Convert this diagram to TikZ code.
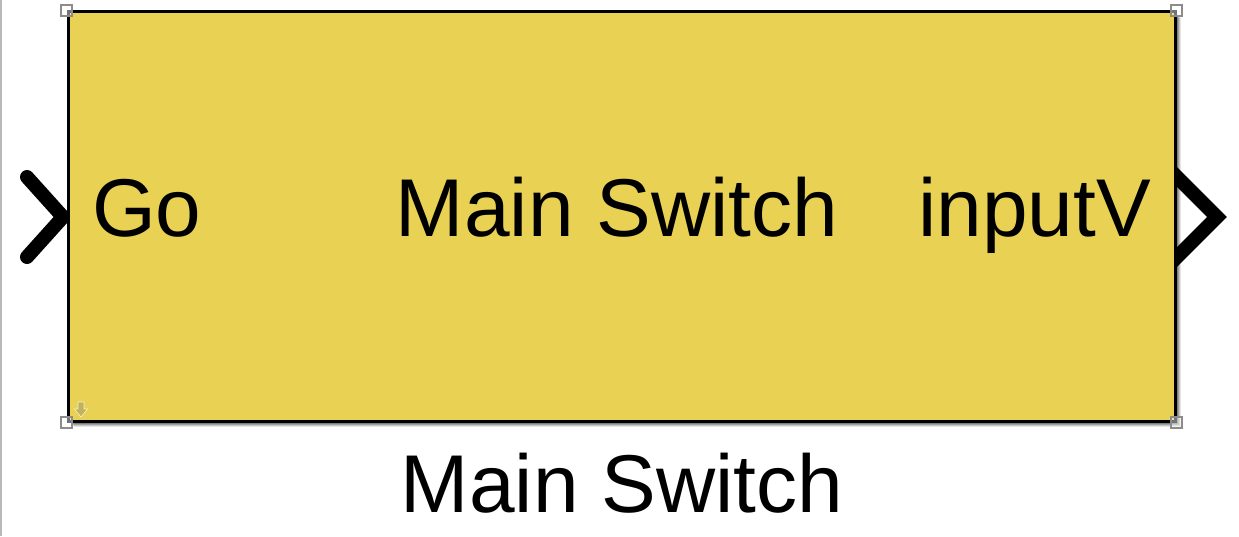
\documentclass[tikz,border=0pt]{standalone}
\usepackage{fontspec}
\setmainfont{Liberation Sans}
\definecolor{blockfill}{RGB}{232,209,83}
\definecolor{handlegray}{RGB}{140,140,140}
\definecolor{markolive}{RGB}{180,170,90}

\begin{document}
\begin{tikzpicture}[x=1pt,y=1pt,
    port/.style={line width=14pt,miter limit=10},
    handle/.style={draw=handlegray,line width=1.2pt,fill=white,fill opacity=0.45},
    blocktext/.style={inner sep=0pt,font=\fontsize{82}{98}\selectfont}]
    \useasboundingbox (0,0) rectangle (1239,536);
    \draw[gray!55,line width=1.5pt] (0.75,0) -- (0.75,536);
    % in and out ports
    \draw[port,line cap=round] (27,359) -- (63,319) -- (27,279);
    \draw[port] (1160,376) -- (1217,319) -- (1160,262);
    % soft shadow
    \foreach \s/\o in {6/0.1,5/0.14,4/0.18,3/0.22,2/0.28}
    \fill[black,opacity=\o] (68+\s,524-\s) rectangle (1175+\s,115-\s);
    \node[draw=black,line width=3pt,fill=blockfill,inner sep=0pt,
          minimum width=1107pt,minimum height=409pt] (block) at (621.5,319.5) {};
    \node[blocktext,anchor=base west] (go) at (92,299) {Go};
    \node[blocktext,anchor=base] (inner) at (617,299) {Main Switch};
    \node[blocktext,anchor=base east] (out) at (1151,299) {inputV};
    \node[blocktext,anchor=base] (name) at (622,24) {Main Switch};
    % little arrow mark in the corner
    \fill[markolive,opacity=0.75,draw=white,line width=0.6pt]
        (78,134) -- (84,134) -- (84,127) -- (87.5,127) -- (81,119) -- (74.5,127) -- (78,127) -- cycle;
    % selection handles
    \foreach \c in {north west,north east,south west,south east}
    \draw[handle] ([shift={(-5.5,-5.5)}]block.\c) rectangle ([shift={(5.5,5.5)}]block.\c);
\end{tikzpicture}
\end{document}
